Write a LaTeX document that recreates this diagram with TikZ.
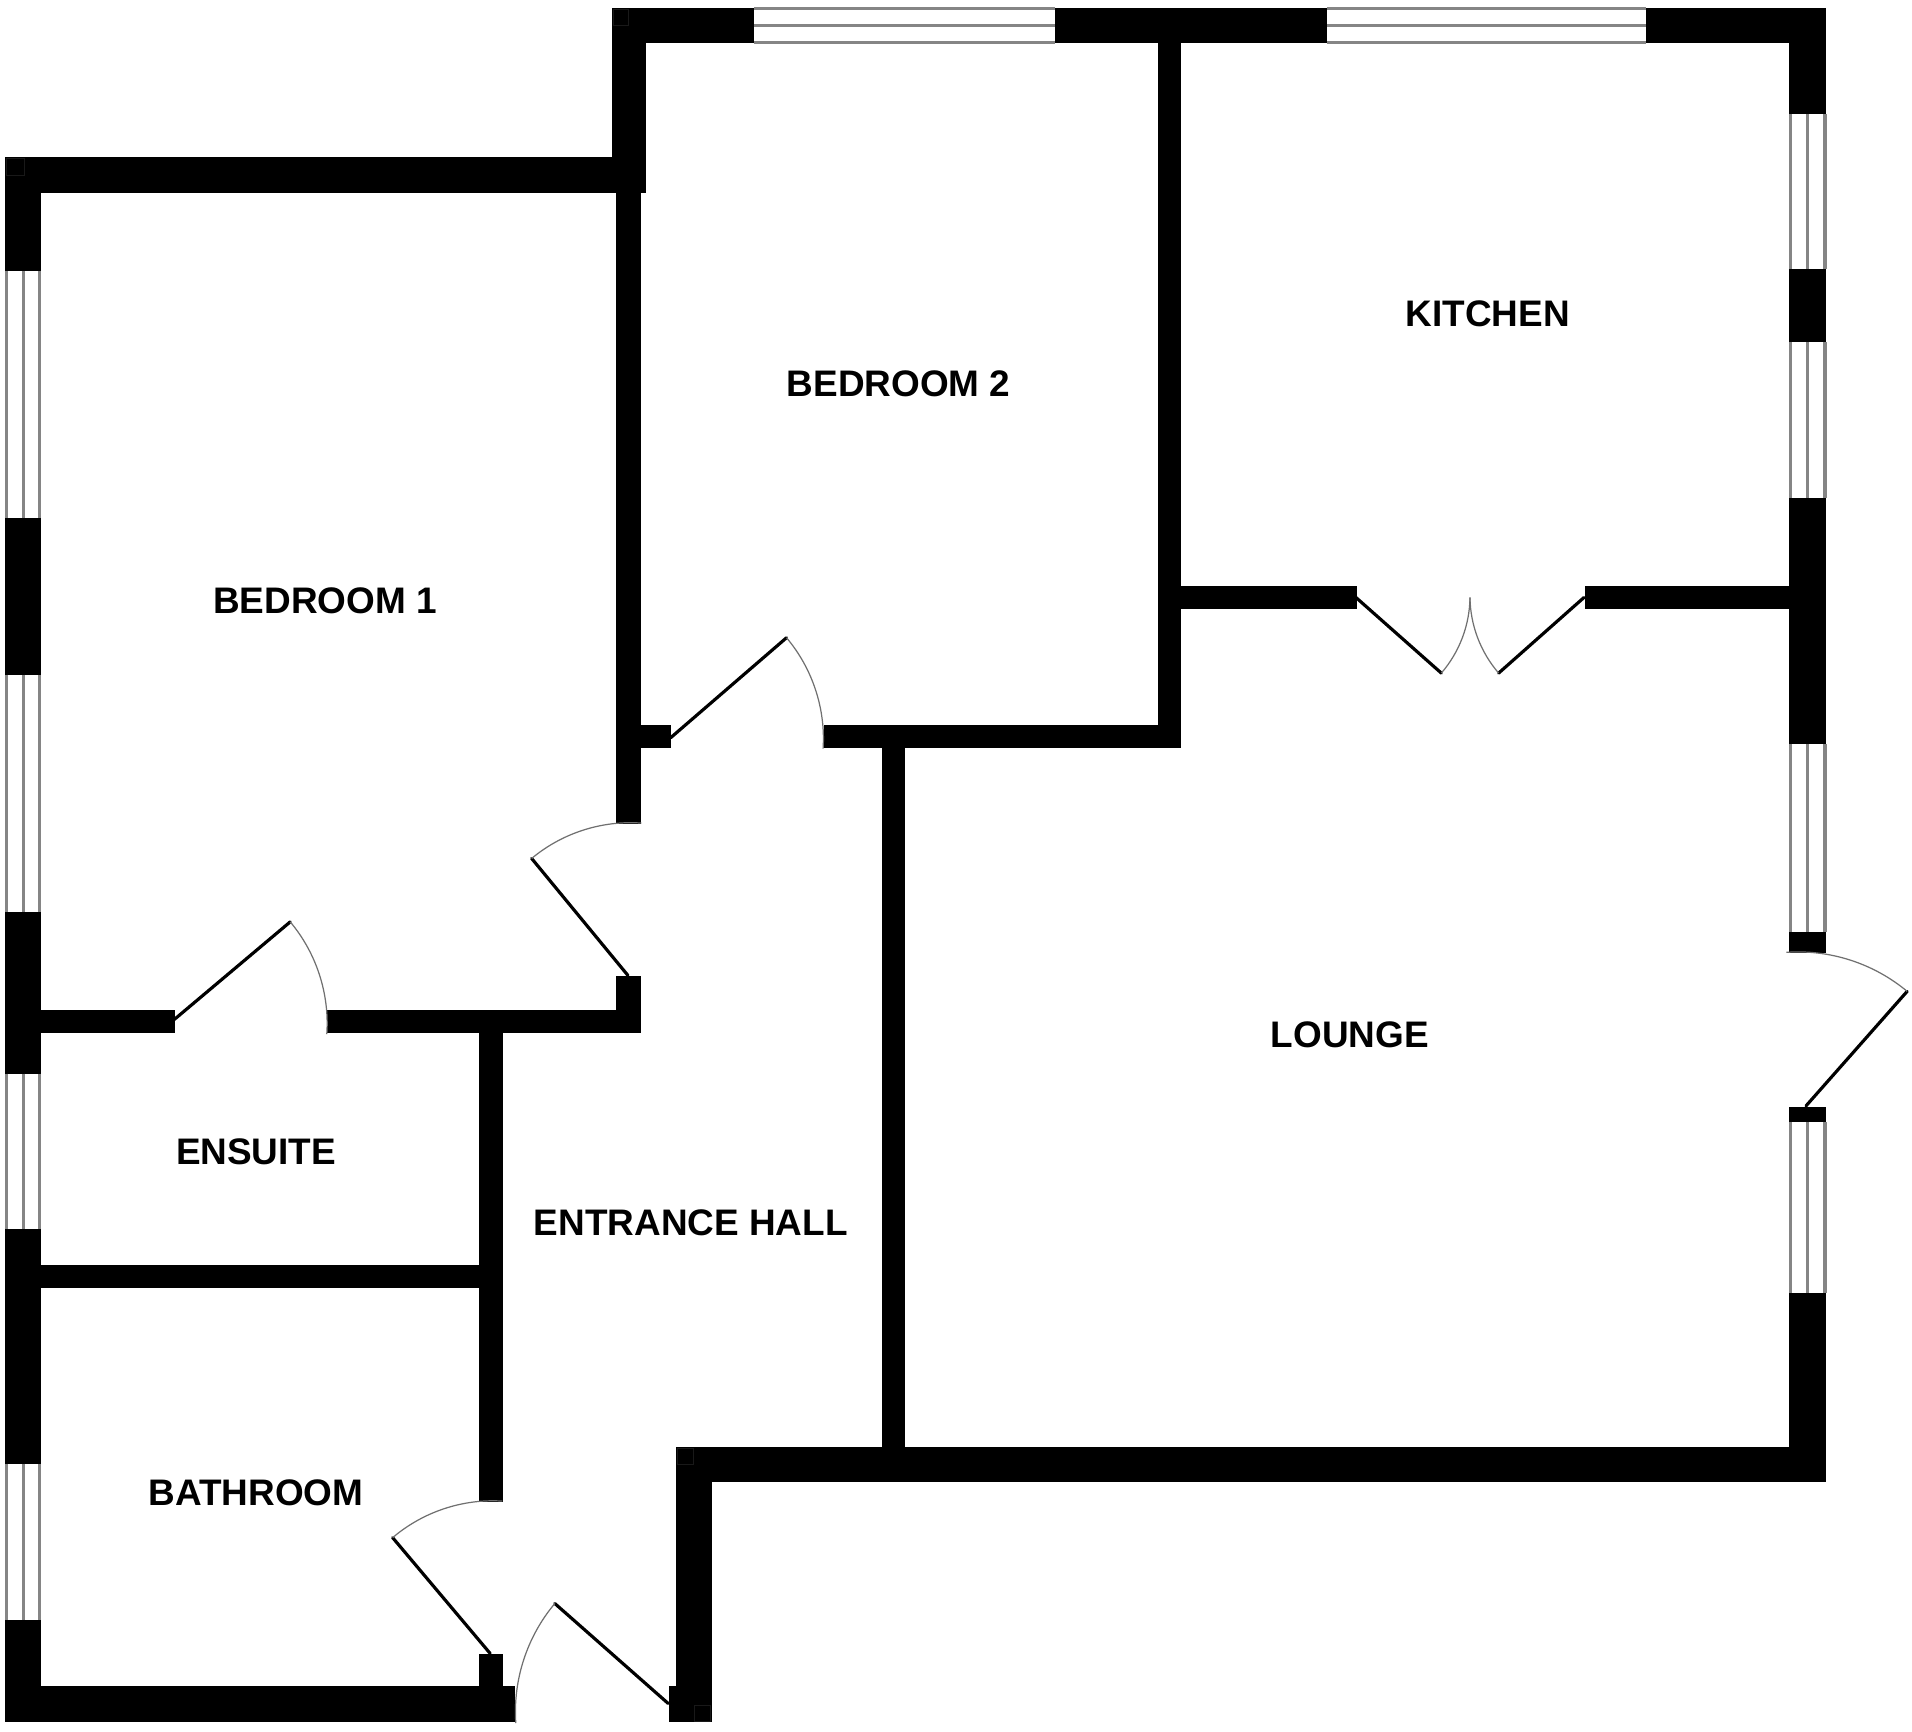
\documentclass[tikz,border=0pt]{standalone}
\usepackage{fontspec}
\setmainfont{Liberation Sans}
\definecolor{wingray}{HTML}{858585}
\definecolor{arcgray}{HTML}{707070}
\tikzset{
  wallfill/.style={fill=black,draw=none},
  leaf/.style={draw=black,line width=2.6bp,line cap=round},
  swing/.style={draw=arcgray,line width=1.0bp},
  paneline/.style={draw=wingray,line width=2.6bp},
  seam/.style={draw=black!90,line width=0.4bp},
  roomlabel/.style={font=\fontsize{30.4}{36}\bfseries\selectfont,text=black,inner sep=0pt},
}
% vertical window: x1 x2 y1 y2
\newcommand{\vwin}[4]{%
  \fill[white] (#1,#3) rectangle (#2,#4);
  \draw[paneline] (#1+0.8,#3) -- (#1+0.8,#4);
  \draw[paneline] ({(#1+#2)/2},#3) -- ({(#1+#2)/2},#4);
  \draw[paneline] (#2-0.8,#3) -- (#2-0.8,#4);}
% horizontal window: x1 x2 y1 y2
\newcommand{\hwin}[4]{%
  \fill[white] (#1,#3) rectangle (#2,#4);
  \draw[paneline] (#1,#3+0.8) -- (#2,#3+0.8);
  \draw[paneline] (#1,{(#3+#4)/2}) -- (#2,{(#3+#4)/2});
  \draw[paneline] (#1,#4-0.8) -- (#2,#4-0.8);}
\begin{document}
\begin{tikzpicture}[x=1bp,y=-1bp]
\useasboundingbox (0,0) rectangle (1568,1419.6);
\fill[white] (0,0) rectangle (1568,1419.6);
\begin{scope}[xshift=0.5bp,yshift=-0.5bp]
% outer walls
\foreach \a/\b/\c/\d in {
  4/128/529/158,
  4/128/33/222, 4/424/33/553, 4/747/33/880, 4/1007/33/1200, 4/1328/33/1412,
  4/1382/422/1412,
  501/6/529/158,
  501/6/618/35, 865/6/1088/35, 1349/6/1497/35,
  1467/6/1497/93, 1467/220/1497/280, 1467/408/1497/610, 1467/764/1497/781,
  1467/907/1497/920, 1467/1060/1497/1215,
  554/1186/1497/1215,
  554/1186/583/1412, 548/1382/583/1412
}{\fill[wallfill] (\a,\b) rectangle (\c,\d);}
% inner walls
\foreach \a/\b/\c/\d in {
  505/158/525/675, 525/594/550/613,
  675/594/968/613, 949/35/968/613,
  968/480/1112/499, 1299/480/1467/499,
  723/613/742/1186,
  33/828/143/847, 268/828/525/847, 505/800/525/847,
  392/847/412/1231, 392/1356/412/1382,
  33/1037/392/1056
}{\fill[wallfill] (\a,\b) rectangle (\c,\d);}
% windows
\hwin{618}{865}{6}{35}
\hwin{1088}{1349}{6}{35}
\vwin{4}{33}{222}{424}
\vwin{4}{33}{553}{747}
\vwin{4}{33}{880}{1007}
\vwin{4}{33}{1200}{1328}
\vwin{1467}{1497}{93}{220}
\vwin{1467}{1497}{280}{408}
\vwin{1467}{1497}{610}{764}
\vwin{1467}{1497}{920}{1060}
% corner seams
\draw[seam] (5,129) rectangle (19,143);
\draw[seam] (502,7) rectangle (515,20);
\draw[seam] (555,1187) rectangle (568,1200);
\draw[seam] (569,1398) rectangle (582,1411);
\end{scope}
% doors
\draw[leaf] (550,605) -- (645,523);
\draw[swing] (645,523) to[bend left=22,looseness=.88] (675,614);
\draw[leaf] (515,800) -- (436,704);
\draw[swing] (436,704) to[bend left=22,looseness=.88] (526,675);
\draw[leaf] (143,836) -- (238,756);
\draw[swing] (238,756) to[bend left=22,looseness=.88] (268,848);
\draw[leaf] (402,1356) -- (322,1261);
\draw[swing] (322,1261) to[bend left=22,looseness=.88] (412,1231);
\draw[leaf] (548,1397) -- (455,1315);
\draw[swing] (455,1315) to[bend right=22,looseness=.88] (423,1413);
\draw[leaf] (1481,907) -- (1564,813);
\draw[swing] (1564,813) to[bend right=22,looseness=.88] (1465,781);
\draw[leaf] (1112,490) -- (1182,552);
\draw[swing] (1182,552) to[bend right=20,looseness=.88] (1205.5,490);
\draw[leaf] (1299,490) -- (1229,552);
\draw[swing] (1229,552) to[bend left=20,looseness=.88] (1205.5,490);
% labels
\node[roomlabel] (bedone) at (266.5,492.5) {BEDROOM 1};
\node[roomlabel] (bedtwo) at (737,314.5) {BEDROOM 2};
\node[roomlabel] (kitchen) at (1220,257.5) {KITCHEN};
\node[roomlabel] (lounge) at (1107,849) {LOUNGE};
\node[roomlabel] (ensuite) at (210,944.5) {ENSUITE};
\node[roomlabel] (hall) at (566.5,1003) {ENTRANCE HALL};
\node[roomlabel] (bathroom) at (210,1224.5) {BATHROOM};
\end{tikzpicture}
\end{document}
